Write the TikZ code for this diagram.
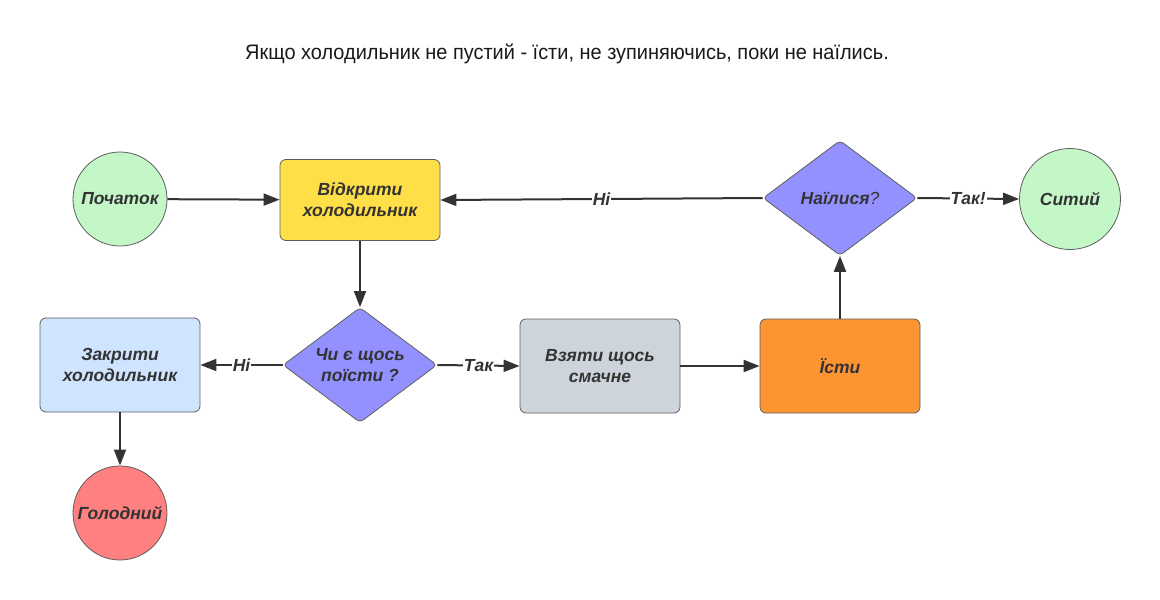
\documentclass[tikz,border=0pt]{standalone}
\usepackage{fontspec}
\setmainfont{Liberation Sans}
\newfontfamily\titlefont[FakeStretch=0.95]{Liberation Sans}
\usetikzlibrary{positioning,shapes.geometric,arrows.meta}
\definecolor{ink}{HTML}{333333}
\definecolor{rim}{HTML}{5E5E5E}
\definecolor{startgreen}{HTML}{C3F7C8}
\definecolor{fridgeyellow}{HTML}{FFDF47}
\definecolor{askviolet}{HTML}{9391FF}
\definecolor{closeblue}{HTML}{CFE4FF}
\definecolor{takegrey}{HTML}{CED4DB}
\definecolor{eatorange}{HTML}{FC9432}
\definecolor{hungryred}{HTML}{FF8080}
\newcommand\boxfont{\fontsize{17.5}{21}\selectfont\bfseries\itshape}
\tikzset{
  process/.style={draw=rim,rounded corners=6pt,minimum width=160pt,minimum height=94pt,align=center,font=\boxfont,text=ink,line width=0.8pt},
  decision/.style={diamond,draw=rim,rounded corners=4pt,aspect=1.33,minimum width=154pt,minimum height=115pt,inner sep=0pt,align=center,font=\boxfont,text=ink,line width=0.8pt},
  terminal/.style={circle,draw=rim,minimum size=94pt,inner sep=0pt,align=center,font=\boxfont,text=ink,line width=0.8pt},
  flow/.style={-{Triangle[length=16pt,width=12pt]},line width=2pt,draw=ink},
  lbl/.style={fill=white,inner sep=1pt,font=\boxfont,text=ink}
}

\begin{document}
\begin{tikzpicture}[x=1pt,y=-1pt]
\useasboundingbox (0,0) rectangle (1160,600);
% title
\node[font=\titlefont\fontsize{21}{24}\selectfont,text=black!90] (title) at (567,54) {Якщо холодильник не пустий - їсти, не зупиняючись, поки не наїлись.};

% nodes
\node[terminal,fill=startgreen] (start) at (120,199) {Початок};
\node[process,fill=fridgeyellow,minimum height=81pt] (open) at (360,200) {Відкрити\\холодильник};
\node[decision,fill=askviolet] (full) at (840,198) {Наїлися{\mdseries?}};
\node[terminal,fill=startgreen,minimum size=101pt] (sated) at (1070,199) {Ситий};
\node[decision,fill=askviolet] (food) at (360,365) {Чи є щось\\поїсти ?};
\node[process,fill=closeblue] (close) at (120,365) {Закрити\\холодильник};
\node[process,fill=takegrey] (take) at (600,366) {Взяти щось\\смачне};
\node[process,fill=eatorange] (eat) at (840,366) {Їсти};
\node[terminal,fill=hungryred] (hungry) at (120,513) {Голодний};

% connectors
\draw[flow] (start) -- (open);
\draw[flow] (full.west) -- node[lbl]{Ні} (open.east);
\draw[flow] (full.east) -- node[lbl]{Так!} (sated.west);
\draw[flow] (open) -- (food);
\draw[flow] (food.west) -- node[lbl]{Ні} (close.east);
\draw[flow] (food.east) -- node[lbl]{Так} (take.west);
\draw[flow] (take) -- (eat);
\draw[flow] (eat) -- (full);
\draw[flow] (close) -- (hungry);
\end{tikzpicture}
\end{document}
